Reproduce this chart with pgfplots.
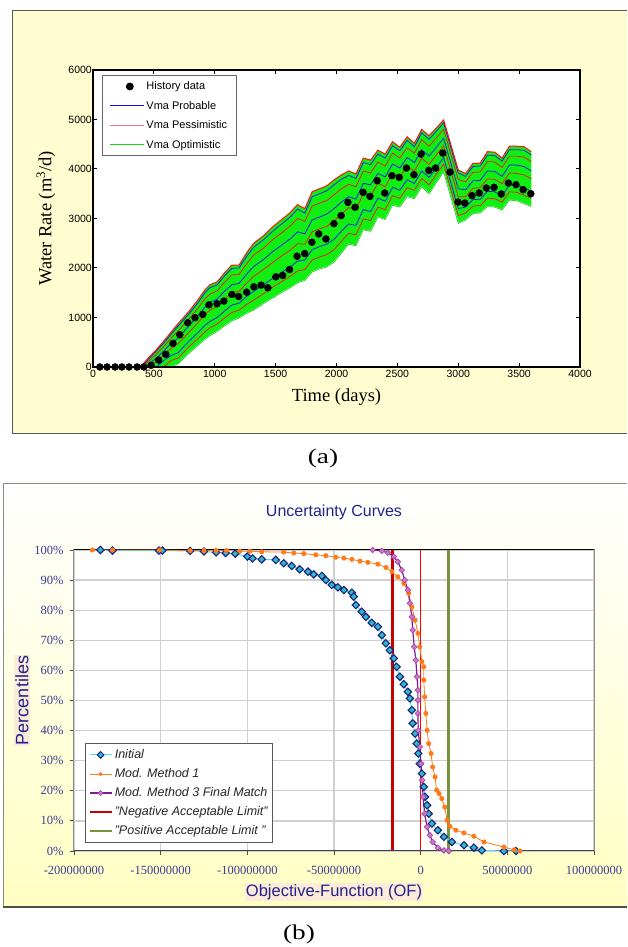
\documentclass[border=0pt]{standalone}
\usepackage{fontspec}
\setmainfont{Liberation Serif}
\setsansfont{Liberation Sans}
\usepackage{pgfplots}
\pgfplotsset{compat=1.18}
\usepackage{pgfplotstable}

\definecolor{panelA}{HTML}{FFFDD0}
\definecolor{panelB}{HTML}{FFFFC2}
\definecolor{ensgreen}{HTML}{11EE11}
\definecolor{ensgreendark}{HTML}{1FD01F}
\definecolor{ensblue}{HTML}{1010FF}
\definecolor{ensred}{HTML}{FF1010}
\definecolor{legpink}{HTML}{F07878}
\definecolor{navytxt}{HTML}{22228F}
\definecolor{ticktxt}{HTML}{3A3A96}
\definecolor{peach}{HTML}{FCEBD6}
\definecolor{gridgray}{HTML}{D0D0D0}
\definecolor{initline}{HTML}{55DDFF}
\definecolor{initfill}{HTML}{30B8C8}
\definecolor{initedge}{HTML}{1A237E}
\definecolor{orng}{HTML}{FF7A1A}
\definecolor{purp}{HTML}{7F1A8F}
\definecolor{purpfill}{HTML}{CC7ACC}
\definecolor{purpedge}{HTML}{A23FA2}
\definecolor{negred}{HTML}{C80000}
\definecolor{posgreen}{HTML}{77933C}

% ensemble of simulated water rates (m3/d)
\pgfplotstableread{
t    U    B1   R1   B2   R2   B3   R3   L
350  0    nan  nan  nan  nan  nan  nan  0
400  30   0    0    nan  nan  nan  nan  0
460  200  170  120  60   0    nan  nan  0
520  350  320  260  180  110  0    nan  0
580  520  480  410  320  240  130  0    0
640  700  660  580  470  370  230  130  0
700  880  830  730  590  470  290  180  60
780  1100 1050 950  810  680  500  390  260
860  1350 1290 1180 1030 890  690  570  430
920  1560 1500 1380 1210 1060 840  710  560
960  1660 1600 1470 1300 1150 920  790  630
1020 1720 1660 1540 1370 1220 1000 870  720
1080 1900 1840 1710 1530 1370 1130 990  830
1140 2060 1990 1860 1660 1500 1250 1100 930
1200 2060 2000 1870 1690 1530 1290 1150 990
1260 2300 2230 2080 1870 1690 1420 1260 1080
1320 2500 2420 2260 2030 1830 1530 1350 1150
1400 2650 2570 2400 2170 1970 1660 1480 1280
1480 2840 2750 2580 2340 2120 1800 1620 1400
1560 3000 2910 2730 2480 2260 1930 1740 1520
1620 3120 3030 2850 2590 2360 2020 1830 1600
1680 3280 3190 3000 2730 2490 2140 1940 1700
1740 3200 3110 2940 2690 2480 2160 1970 1750
1800 3540 3440 3250 2970 2730 2370 2160 1920
1860 3600 3500 3310 3030 2790 2430 2220 1980
1920 3660 3560 3360 3090 2840 2480 2270 2020
1980 3780 3680 3480 3200 2950 2580 2370 2120
2040 3880 3790 3600 3330 3090 2740 2540 2300
2100 3960 3870 3690 3440 3220 2890 2700 2480
2160 3900 3810 3640 3390 3180 2860 2670 2450
2220 4220 4130 3960 3710 3500 3180 2990 2770
2280 4180 4090 3920 3680 3460 3140 2960 2740
2340 4380 4300 4140 3910 3710 3410 3230 3030
2400 4300 4220 4060 3840 3640 3350 3180 2980
2460 4550 4470 4320 4100 3910 3630 3460 3270
2520 4440 4370 4220 4020 3840 3570 3410 3230
2580 4650 4580 4430 4230 4050 3780 3620 3440
2640 4520 4450 4320 4130 3960 3710 3570 3400
2700 4800 4730 4590 4390 4220 3960 3810 3640
2760 4670 4600 4460 4260 4090 3830 3680 3500
2880 4990 4930 4800 4620 4470 4230 4100 3940
3000 3980 3920 3790 3600 3440 3200 3060 2900
3060 3910 3850 3740 3580 3440 3230 3110 2970
3120 4110 4050 3930 3760 3610 3380 3250 3100
3180 4120 4060 3940 3770 3620 3390 3260 3110
3240 4350 4280 4150 3960 3800 3550 3410 3240
3300 4340 4270 4140 3950 3790 3540 3400 3230
3360 4220 4160 4030 3850 3700 3460 3330 3170
3420 4460 4390 4260 4080 3920 3680 3540 3370
3480 4460 4390 4260 4080 3910 3670 3530 3360
3540 4450 4380 4240 4050 3880 3620 3470 3300
3600 4350 4280 4150 3960 3800 3550 3410 3240
}\ensemble

\pgfplotstableread{
t    v
56   0
115  0
181  0
237  0
296  0
362  0
417  0
477  34
539  141
598  255
657  477
713  652
779  894
838  995
901  1062
953  1257
1019 1277
1075 1331
1141 1465
1196 1425
1262 1512
1321 1620
1381 1653
1436 1600
1502 1821
1558 1848
1614 1969
1676 2238
1739 2292
1798 2520
1854 2688
1913 2587
1979 2896
2038 3058
2094 3326
2153 3226
2219 3528
2275 3447
2334 3763
2396 3515
2455 3864
2515 3830
2574 4019
2636 3884
2695 4301
2758 3972
2814 4019
2873 4321
2932 3938
2998 3333
3054 3313
3113 3461
3172 3515
3231 3615
3294 3629
3353 3494
3412 3716
3474 3683
3533 3582
3596 3501
}\history

% objective function in millions, percentile in %
\pgfplotstableread{
of     p
-184.8 100
-177.8 99.8
-151   99.8
-149   99.8
-133   99.7
-125   99.5
-118   99.2
-112.5 99.0
-107   98.8
-100   97.8
-97    97.2
-91.7  96.9
-83.6  96.7
-79    95.6
-74.4  94.7
-69.8  93.6
-65    92.8
-61.7  91.9
-57    91.4
-54.7  90.0
-51.3  88.4
-47.8  87.6
-44.3  86.7
-39.7  85.8
-38.6  84.5
-37.4  81.7
-34    79.5
-31.6  77.8
-28.2  75.8
-24.7  74.5
-22.4  71.7
-20.1  69.0
-17.8  66.7
-15.5  64.0
-13.9  61.2
-12    57.9
-9.7   55.4
-7.4   52.9
-6.2   50.7
-5.1   46.8
-4.6   42.4
-3.2   39.0
-2.3   35.7
-1.4   32.4
-0.5   29.0
0.7    25.7
1.8    21.3
2.5    18.0
3.7    15.2
4.6    12.4
6.5    9.1
9.9    6.9
13.4   4.7
18     3.0
25     1.9
30.7   1.1
35.3   0.2
48     0
55     0
}\initial

\pgfplotstableread{
of     p
-189.4 100
-177.8 100
-150.6 100
-133   99.8
-125   99.8
-118   99.8
-112   99.8
-104.4 99.6
-98.6  99.6
-91.7  99.4
-79    99.3
-73.2  99.0
-67.4  98.8
-60.5  98.4
-54.7  98.1
-49    97.6
-44.3  97.3
-39.7  96.9
-35    96.3
-30.5  95.9
-24.7  95.3
-20    94.2
-16.6  92.8
-13.2  91.1
-9.7   88.9
-6.9   85.6
-5.1   81.1
-3.2   76.7
-1.6   72.3
-0.5   67.8
0.7    62.9
1.8    61.2
1.8    56.8
2.3    51.2
3.0    45.7
3.7    40.1
4.6    35.7
6.0    32.4
6.9    27.9
8.3    24.6
9.2    20.2
10.6   19.1
12.2   17.4
13.9   14.6
15.2   10.2
16.9   8.2
20.3   6.9
24.9   6.0
30.7   4.9
36.5   3.0
48     1.3
53.8   0.4
57.3   0
}\methodone

\pgfplotstableread{
of     p
-27.7  100
-22.4  99.7
-19    99.1
-15.5  97.8
-13.2  96.1
-10.9  93.3
-9.2   90.0
-7.4   86.7
-6.2   82.3
-5.1   77.8
-4.6   73.4
-3.7   67.8
-2.8   63.4
-2.1   57.9
-1.6   53.4
-1.6   50.1
-1.6   45.7
-1.4   40.1
-0.5   34.6
0.2    29.0
0.9    23.5
1.4    18.0
2.3    12.4
3.7    8.0
5.3    5.2
6.9    3.0
9.9    1.1
13.4   0.2
16.2   0
}\methodthree

\begin{document}
\begin{tikzpicture}
\fill[white] (0pt,0pt) rectangle (627pt,947pt);
% panel backgrounds
\fill[panelA] (12.5pt,514pt) rectangle (627pt,937pt);
\draw[black!65, line width=0.8pt] (627pt,937pt) -- (12.5pt,937pt) -- (12.5pt,514pt) -- (627pt,514pt);
\shade[top color=white, bottom color=panelB] (3pt,40pt) rectangle (627pt,464pt);
\draw[black!45, line width=0.8pt] (627pt,464pt) -- (3pt,464pt) -- (3pt,40pt);
\draw[black!70, line width=1.2pt] (3pt,40pt) -- (627pt,40pt);

% (a) water rate
\begin{axis}[
  at={(93pt,580pt)}, anchor=south west, scale only axis,
  width=487pt, height=297pt,
  xmin=0, xmax=4000, ymin=0, ymax=6000,
  axis on top,
  xtick={0,500,...,4000},
  xticklabels={0,500,1000,1500,2000,2500,3000,3500,4000},
  ytick={0,1000,...,6000},
  yticklabels={0,1000,2000,3000,4000,5000,6000},
  tick align=inside, major tick length=4pt,
  every tick/.style={black, line width=1pt},
  axis line style={black, line width=1.2pt},
  axis background/.style={fill=white},
  ticklabel style={font=\sffamily\fontsize{10.5}{12}\selectfont, inner sep=1pt},
  xticklabel style={yshift=-2pt},
  xlabel={Time (days)},
  ylabel={Water Rate (m\textsuperscript{3}/d)},
  label style={font=\fontsize{18.5}{22}\selectfont},
  xlabel style={at={(axis description cs:0.5,-0.101)}, anchor=center},
  ylabel style={at={(axis description cs:-0.0965,0.5)}, anchor=center},
  legend style={at={(0.018,0.982)}, anchor=north west,
    font=\sffamily\fontsize{11}{12}\selectfont,
    row sep=6pt, inner xsep=7pt, inner ysep=4pt,
    draw=black!60, line width=0.8pt},
  legend cell align=left,
]
\addplot[fill=ensgreen, draw=none, forget plot] table[x=t, y=U] {\ensemble} \closedcycle;
\addplot[fill=white, draw=white, line width=1pt, forget plot] table[x=t, y=L] {\ensemble} \closedcycle;
\addplot[ensgreendark, line width=0.7pt, forget plot] table[x=t, y=L] {\ensemble};
\addplot[ensred, line width=0.7pt, forget plot] table[x=t, y=R3] {\ensemble};
\addplot[ensblue, line width=0.7pt, forget plot] table[x=t, y=B3] {\ensemble};
\addplot[ensred, line width=0.7pt, forget plot] table[x=t, y=R2] {\ensemble};
\addplot[ensblue, line width=0.7pt, forget plot] table[x=t, y=B2] {\ensemble};
\addplot[ensred, line width=0.7pt, forget plot] table[x=t, y=R1] {\ensemble};
\addplot[ensblue, line width=0.7pt, forget plot] table[x=t, y=B1] {\ensemble};
\addplot[ensred, line width=1pt, forget plot] table[x=t, y=U] {\ensemble};
\addplot[only marks, mark=*, mark size=3.5pt, black, forget plot] table[x=t, y=v] {\history};
\addlegendimage{legend image code/.code={\fill[black] (20pt,0pt) circle (3.5pt);}}
\addlegendentry{History data}
\addlegendimage{legend image code/.code={\draw[draw=ensblue, line width=0.9pt] (0pt,0pt) -- (34pt,0pt);}}
\addlegendentry{Vma Probable}
\addlegendimage{legend image code/.code={\draw[draw=legpink, line width=1.3pt] (0pt,0pt) -- (34pt,0pt);}}
\addlegendentry{Vma Pessimistic}
\addlegendimage{legend image code/.code={\draw[draw=ensgreendark, line width=1.1pt] (0pt,0pt) -- (34pt,0pt);}}
\addlegendentry{Vma Optimistic}
\end{axis}

\node[font=\fontsize{21}{24}\selectfont, xscale=1.3] at (323pt,489pt) {(a)};

% (b) uncertainty curves
\begin{axis}[
  at={(74pt,96pt)}, anchor=south west, scale only axis,
  width=520pt, height=301pt,
  xmin=-200, xmax=100, ymin=0, ymax=100,
  xtick={-200,-150,...,100},
  xticklabels={-200000000,-150000000,-100000000,-50000000,0,50000000,100000000},
  ytick={0,10,...,100},
  yticklabels={0\%,10\%,20\%,30\%,40\%,50\%,60\%,70\%,80\%,90\%,100\%},
  ticklabel style={font=\fontsize{12.5}{14}\selectfont, text=ticktxt},
  xticklabel style={yshift=-8pt},
  yticklabel style={xshift=-3pt},
  grid=major, major grid style={draw=gridgray, line width=1.3pt},
  tick align=outside, tick pos=left, major tick length=4pt,
  every tick/.style={black!70, line width=0.8pt},
  axis line style={draw=black!45, line width=1pt},
  axis background/.style={fill=white},
  title={Uncertainty Curves},
  title style={font=\sffamily\fontsize{16}{19}\selectfont, text=navytxt,
    at={(axis description cs:0.5,1.106)}, anchor=center},
  xlabel={Objective-Function (OF)},
  ylabel={Percentiles},
  xlabel style={font=\sffamily\fontsize{16.5}{19}\selectfont, text=navytxt, fill=peach,
    inner sep=1pt, at={(axis description cs:0.5,-0.136)}, anchor=center},
  ylabel style={font=\sffamily\fontsize{18}{21}\selectfont, text=navytxt, fill=peach,
    inner sep=1pt, at={(axis description cs:-0.1,0.5)}, anchor=center},
  legend style={at={(0.021,0.027)}, anchor=south west, draw=black!65,
    line width=0.8pt, fill=white,
    font=\sffamily\itshape\fontsize{12.5}{14}\selectfont, text=black!85,
    row sep=4.5pt, inner xsep=3pt, inner ysep=4pt},
  legend cell align=left,
  legend image code/.code={\draw[mark repeat=2, mark phase=2, #1]
    plot coordinates {(0pt,0pt) (11pt,0pt) (22pt,0pt)};},
]
\addplot[negred, line width=3pt, forget plot] coordinates {(-16,0) (-16,100)};
\addplot[red, line width=0.8pt, forget plot] coordinates {(0,0) (0,100)};
\addplot[posgreen, line width=3.5pt, forget plot] coordinates {(16,0) (16,100)};
\draw[black, line width=1pt] (rel axis cs:0,1) -- (rel axis cs:1,1);
\draw[black!75, line width=1.5pt] (rel axis cs:0,0) -- (rel axis cs:1,0);
\addplot[initline, line width=1pt, mark=square*, mark size=2.6pt,
  mark options={rotate=45, fill=initfill, draw=initedge, line width=1.1pt}, forget plot]
  table[x=of, y=p] {\initial};
\addplot[orng, line width=0.8pt, mark=*, mark size=2.1pt,
  mark options={fill=orng, draw=orng}, forget plot]
  table[x=of, y=p] {\methodone};
\addplot[purp, line width=1.2pt, mark=square*, mark size=2pt,
  mark options={rotate=45, fill=purpfill, draw=purpedge, line width=0.6pt}, forget plot]
  table[x=of, y=p] {\methodthree};
\addlegendimage{initline, line width=1pt, mark=square*, mark size=2.4pt,
  mark options={rotate=45, fill=initfill, draw=initedge, line width=1pt}}
\addlegendentry{Initial}
\addlegendimage{orng, line width=0.8pt, mark=*, mark size=1.6pt,
  mark options={fill=orng, draw=orng}}
\addlegendentry{Mod. Method 1}
\addlegendimage{purp, line width=1.2pt, mark=square*, mark size=1.8pt,
  mark options={rotate=45, fill=purpfill, draw=purpedge, line width=0.6pt}}
\addlegendentry{Mod. Method 3 Final Match}
\addlegendimage{negred, line width=2.5pt}
\addlegendentry{"Negative Acceptable Limit"}
\addlegendimage{posgreen, line width=2.5pt}
\addlegendentry{"Positive Acceptable Limit "}
\end{axis}

\node[font=\fontsize{21}{24}\selectfont, xscale=1.3] at (299pt,13pt) {(b)};
\end{tikzpicture}
\end{document}
